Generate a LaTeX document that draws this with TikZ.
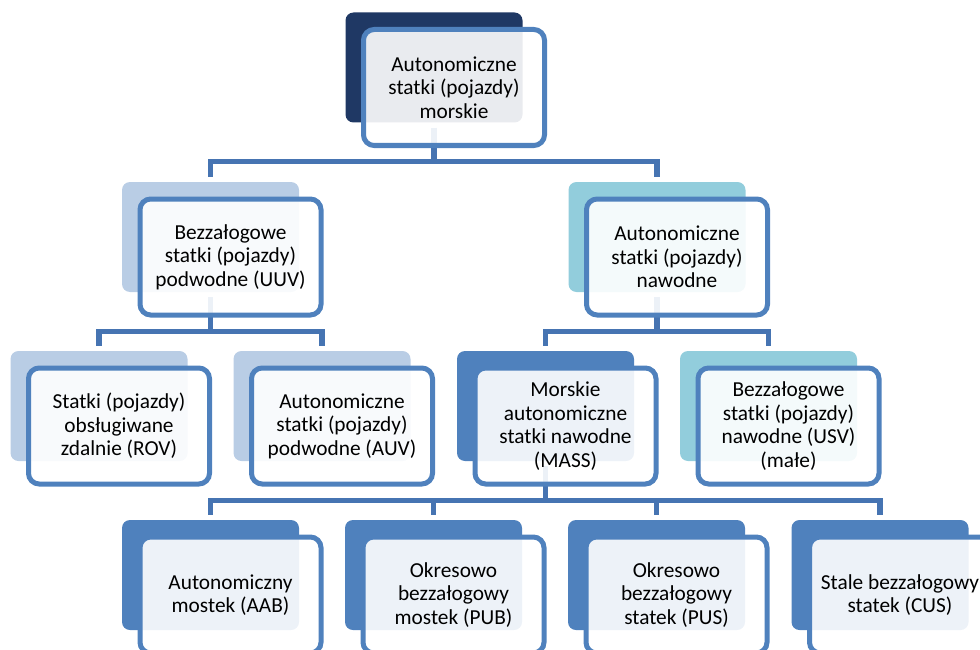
\documentclass[tikz,border=0pt]{standalone}
\usepackage{fontspec}
\setmainfont{Carlito}
\usetikzlibrary{backgrounds}
\definecolor{cnavy}{HTML}{1F3864}
\definecolor{clblue}{HTML}{B9CDE5}
\definecolor{cteal}{HTML}{92CDDC}
\definecolor{cmid}{HTML}{4F81BD}
\definecolor{cconn}{HTML}{4674B2}
\tikzset{
  backbox/.style={rectangle, rounded corners=6pt, minimum width=132.75pt, minimum height=82.5pt, inner sep=0pt},
  frontbox/.style={rectangle, rounded corners=8pt, draw=cmid, line width=3.75pt, fill=white, fill opacity=0.9, draw opacity=1, text opacity=1,
    minimum width=135.75pt, minimum height=87pt, inner sep=0pt, align=center, text width=132pt,
    font=\fontsize{16}{17.6}\selectfont, text=black,
    execute at begin node={\spaceskip=3.6pt\relax}},
  conn/.style={draw=cconn, line width=4pt},
}
\newcommand\hnode[5]{%
  \node[backbox, fill=#4] (#1b) at (#2,#3) {};
  \node[frontbox] (#1) at ([shift={(20,20)}]#1b.center) {#5};
}
\newcommand\tree[2]{%
  \draw[conn] ([yshift=-3.75pt]#1b.south) -- ++(0,34) -| ([yshift=3.75pt]#2b.north);
}
\begin{document}
\begin{tikzpicture}[x=0.75pt,y=-0.75pt]
\useasboundingbox (0,0) rectangle (980,649);
\hnode{top}{434}{67.5}{cnavy}{Autonomiczne\\statki (pojazdy)\\morskie}
\hnode{uuv}{210.5}{237}{clblue}{Bezzałogowe\\statki (pojazdy)\\podwodne (UUV)}
\hnode{nav}{657}{237}{cteal}{Autonomiczne\\statki (pojazdy)\\nawodne}
\hnode{rov}{99}{406}{clblue}{Statki (pojazdy)\\obsługiwane\\zdalnie (ROV)}
\hnode{auv}{322}{406}{clblue}{Autonomiczne\\statki (pojazdy)\\podwodne (AUV)}
\hnode{mass}{545.5}{406}{cmid}{Morskie\\autonomiczne\\statki nawodne\\(MASS)}
\hnode{usv}{768.5}{406}{cteal}{Bezzałogowe\\statki (pojazdy)\\nawodne (USV)\\(małe)}
\hnode{aab}{210.5}{575}{cmid}{Autonomiczny\\mostek (AAB)}
\hnode{pub}{433.5}{575}{cmid}{Okresowo\\bezzałogowy\\mostek (PUB)}
\hnode{pus}{656.5}{575}{cmid}{Okresowo\\bezzałogowy\\statek (PUS)}
\hnode{cus}{880}{575}{cmid}{Stale bezzałogowy\\statek (CUS)}
\begin{scope}[on background layer]
\tree{top}{uuv}
\tree{top}{nav}
\tree{uuv}{rov}
\tree{uuv}{auv}
\tree{nav}{mass}
\tree{nav}{usv}
\tree{mass}{aab}
\tree{mass}{pub}
\tree{mass}{pus}
\tree{mass}{cus}
\end{scope}
\end{tikzpicture}
\end{document}
